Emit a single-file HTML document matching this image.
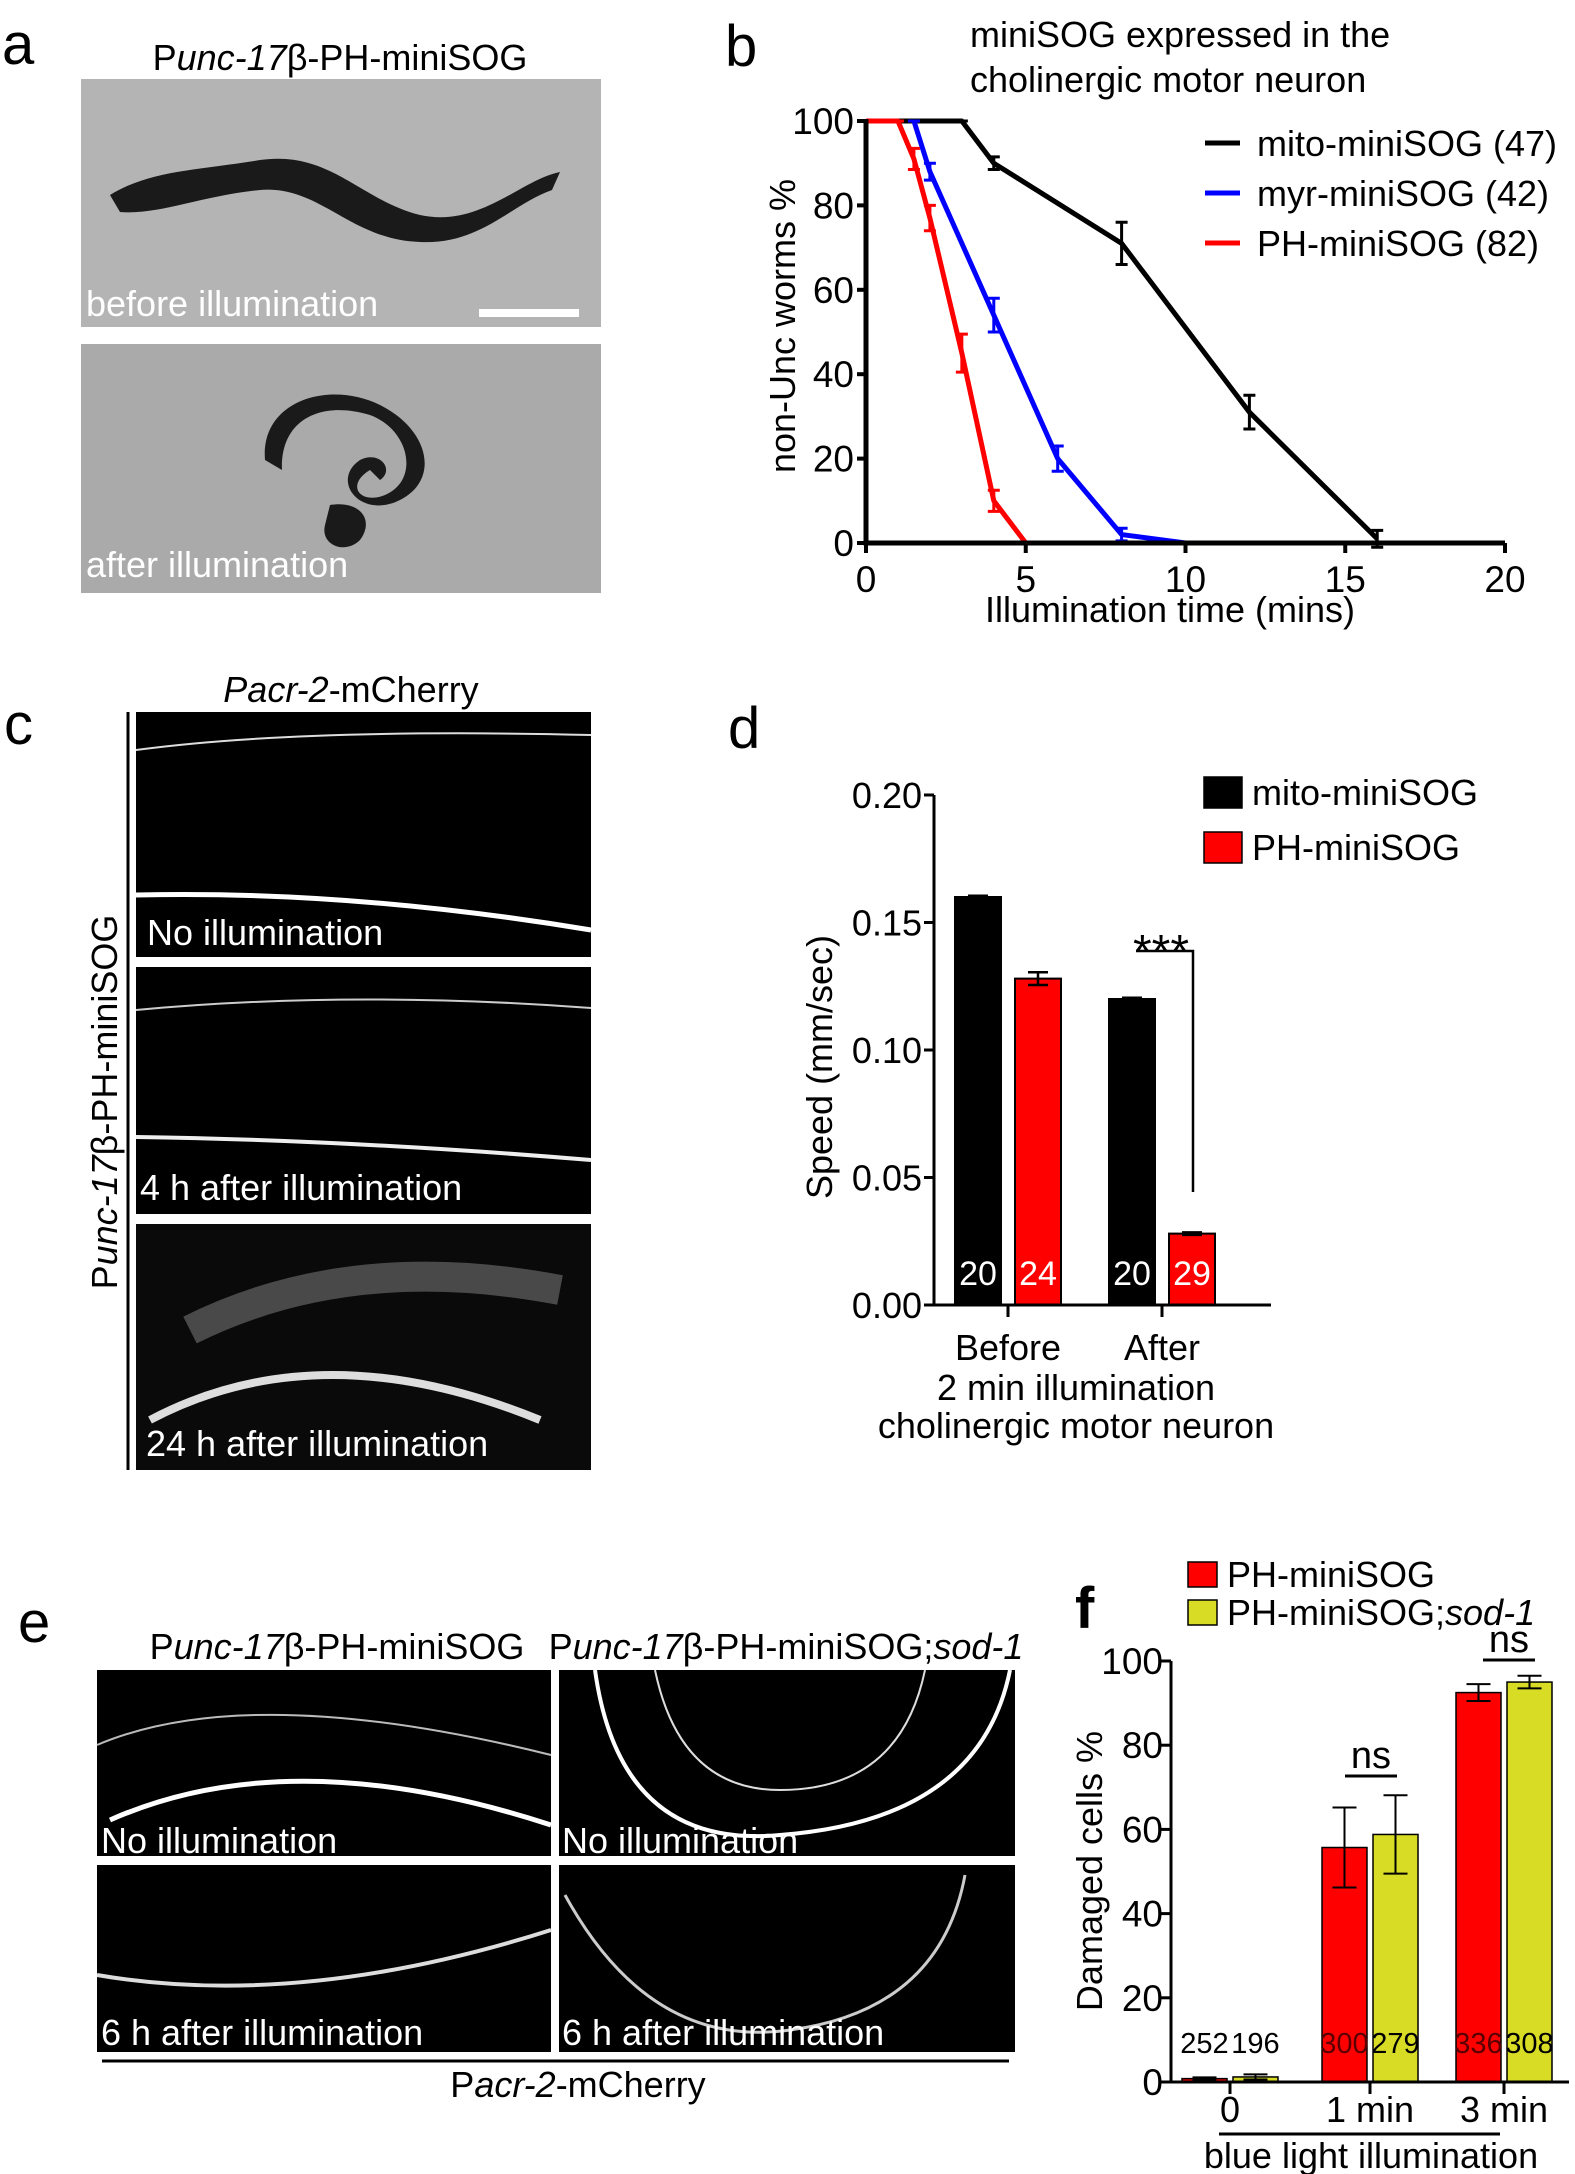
<!DOCTYPE html>
<html><head><meta charset="utf-8"><style>
html,body{margin:0;padding:0;background:#fff}
svg{display:block}
text{font-family:"Liberation Sans",Arial,sans-serif}
</style></head><body>
<svg id="fig" width="1575" height="2174" viewBox="0 0 1575 2174" xmlns="http://www.w3.org/2000/svg">
<!-- Panel a -->
<g>
<text x="2" y="64" font-size="58">a</text>
<text x="340" y="70" font-size="36" text-anchor="middle">P<tspan font-style="italic">unc-17</tspan>β-PH-miniSOG</text>
<rect x="81" y="79" width="520" height="248" fill="#b4b4b4"/>
<path d="M110 195 C150 170 200 170 260 160 C330 150 360 200 420 215 C480 228 520 180 560 172 L552 190 C510 205 480 245 420 242 C350 240 320 185 260 190 C200 196 160 215 120 212 Z" fill="#1a1a1a"/>
<text x="86" y="316" font-size="36" fill="#fff">before illumination</text>
<rect x="479" y="309" width="100" height="8" fill="#fff"/>
<rect x="81" y="344" width="520" height="249" fill="#aaaaaa"/>
<path d="M265 460 C260 400 330 380 380 405 C430 430 440 480 400 500 C360 520 330 480 360 460 C380 450 395 470 380 480 L370 470 C345 485 360 505 385 495 C420 480 410 430 370 415 C320 400 280 420 282 470 Z" fill="#1a1a1a"/>
<path d="M330 505 C360 500 375 520 360 540 C345 555 320 545 325 525 Z" fill="#1a1a1a"/>
<text x="86" y="577" font-size="36" fill="#fff">after illumination</text>
</g>
<!-- Panel c -->
<g>
<text x="4" y="744" font-size="58">c</text>
<text x="351" y="702" font-size="36" text-anchor="middle"><tspan font-style="italic">Pacr-2</tspan>-mCherry</text>
<line x1="128" y1="712" x2="128" y2="1470" stroke="#000" stroke-width="3"/>
<text transform="translate(117,1102) rotate(-90)" font-size="36" text-anchor="middle">P<tspan font-style="italic">unc-17</tspan>β-PH-miniSOG</text>
<rect x="136" y="712" width="455" height="245" fill="#000"/>
<path d="M136 750 Q300 728 591 735" stroke="#ddd" stroke-width="2" fill="none"/>
<path d="M136 895 Q350 890 591 930" stroke="#fff" stroke-width="5" fill="none"/>
<text x="147" y="945" font-size="36" fill="#fff">No illumination</text>
<rect x="136" y="967" width="455" height="247" fill="#000"/>
<path d="M136 1010 Q350 990 591 1008" stroke="#ccc" stroke-width="2" fill="none"/>
<path d="M136 1137 Q350 1140 591 1160" stroke="#eee" stroke-width="4" fill="none"/>
<text x="140" y="1200" font-size="36" fill="#fff">4 h after illumination</text>
<rect x="136" y="1224" width="455" height="246" fill="#0a0a0a"/>
<path d="M190 1330 Q350 1250 560 1290" stroke="#888" stroke-width="30" fill="none" opacity="0.5"/>
<path d="M150 1420 Q320 1330 540 1420" stroke="#ddd" stroke-width="8" fill="none"/>
<text x="146" y="1456" font-size="36" fill="#fff">24 h after illumination</text>
</g>
<!-- Panel e -->
<g>
<text x="18" y="1642" font-size="58">e</text>
<text x="337" y="1659" font-size="36" text-anchor="middle">P<tspan font-style="italic">unc-17</tspan>β-PH-miniSOG</text>
<text x="786" y="1659" font-size="36" text-anchor="middle">P<tspan font-style="italic">unc-17</tspan>β-PH-miniSOG;<tspan font-style="italic">sod-1</tspan></text>
<rect x="97" y="1670" width="454" height="186" fill="#000"/>
<path d="M97 1745 Q250 1680 551 1755" stroke="#bbb" stroke-width="2" fill="none"/>
<path d="M110 1820 Q290 1740 551 1825" stroke="#fff" stroke-width="5" fill="none"/>
<text x="101" y="1853" font-size="36" fill="#fff">No illumination</text>
<rect x="559" y="1670" width="456" height="186" fill="#000"/>
<path d="M595 1670 Q620 1850 780 1835 Q980 1820 1010 1670" stroke="#fff" stroke-width="4" fill="none"/>
<path d="M655 1670 Q680 1790 780 1790 Q900 1790 925 1670" stroke="#ddd" stroke-width="2" fill="none"/>
<text x="562" y="1853" font-size="36" fill="#fff">No illumination</text>
<rect x="97" y="1865" width="454" height="187" fill="#000"/>
<path d="M97 1975 Q300 2010 551 1930" stroke="#ddd" stroke-width="4" fill="none"/>
<text x="101" y="2045" font-size="36" fill="#fff">6 h after illumination</text>
<rect x="559" y="1865" width="456" height="187" fill="#000"/>
<path d="M565 1895 Q650 2050 790 2030 Q940 2010 965 1875" stroke="#ccc" stroke-width="3" fill="none"/>
<text x="562" y="2045" font-size="36" fill="#fff">6 h after illumination</text>
<line x1="102" y1="2061" x2="1009" y2="2061" stroke="#000" stroke-width="3"/>
<text x="578" y="2097" font-size="36" text-anchor="middle">P<tspan font-style="italic">acr-2</tspan>-mCherry</text>
</g>
<!-- Panel b -->
<g id="chartB">
<text x="725" y="66" font-size="58">b</text>
<text x="970" y="47" font-size="36">miniSOG expressed in the</text>
<text x="970" y="92" font-size="36">cholinergic motor neuron</text>
<text transform="translate(795,326) rotate(-90)" font-size="36" text-anchor="middle">non-Unc worms %</text>
<text x="1170" y="622" font-size="36" text-anchor="middle">Illumination time (mins)</text>
</g>
<!-- Panel d -->
<g id="chartD">
<text x="728" y="748" font-size="58">d</text>
<text transform="translate(832,1067) rotate(-90)" font-size="36" text-anchor="middle">Speed (mm/sec)</text>
<text x="1076" y="1400" font-size="36" text-anchor="middle">2 min illumination</text>
<text x="1076" y="1438" font-size="36" text-anchor="middle">cholinergic motor neuron</text>
</g>
<!-- Panel f -->
<g id="chartF">
<text x="1075" y="1628" font-size="58" font-weight="bold">f</text>
<text transform="translate(1102,1871) rotate(-90)" font-size="36" text-anchor="middle">Damaged cells %</text>
<line x1="1219" y1="2134" x2="1500" y2="2134" stroke="#000" stroke-width="3"/>
<text x="1371" y="2168" font-size="36" text-anchor="middle">blue light illumination</text>
</g>
</svg>
<script>
const NS="http://www.w3.org/2000/svg";
function mk(parent,tag,attrs,txt){const e=document.createElementNS(NS,tag);for(const k in attrs)e.setAttribute(k,attrs[k]);if(txt!==undefined)e.textContent=txt;parent.appendChild(e);return e;}

// ===== Chart b data =====
const bXTicks=[0,5,10,15,20];
const bYTicks=[0,20,40,60,80,100];
const mitoX=[0,2,3,4,8,12,16];
const mitoY=[100,100,100,90,71,31,1];
const mitoErr=[0,0,0,1.5,5,4,2];
const myrX=[1.5,2,4,6,8,10];
const myrY=[100,88,54,20,2,0];
const myrErr=[0,2,4,3,1.5,0];
const phX=[0,1,1.5,2,3,4,5];
const phY=[100,100,91,77,45,10,0];
const phErr=[0,0,2.5,3,4.5,2.5,0];
const bSeriesNames=["mito-miniSOG (47)","myr-miniSOG (42)","PH-miniSOG (82)"];
const bColors=["#000","#0000ff","#ff0000"];

(function(){
 const g=document.getElementById('chartB');
 const x0=866,x1=1505,y0=543,y1=121;
 const sx=v=>x0+(v-0)/(20-0)*(x1-x0);
 const sy=v=>y0-(v-0)/(100-0)*(y0-y1);
 const series=[[mitoX,mitoY,mitoErr],[myrX,myrY,myrErr],[phX,phY,phErr]];
 series.forEach((s,i)=>{
  const pts=s[0].map((x,j)=>sx(x)+','+sy(s[1][j])).join(' ');
  const pl=mk(g,'polyline',{points:pts,fill:'none',stroke:bColors[i],'stroke-width':5,'stroke-linejoin':'round'});
  
  
  s[0].forEach((x,j)=>{
   const e=s[2][j];const cx=sx(x);
   const eb=mk(g,'path',{d:`M${cx},${sy(s[1][j]-e)}V${sy(s[1][j]+e)}M${cx-6},${sy(s[1][j]-e)}h12M${cx-6},${sy(s[1][j]+e)}h12`,stroke:bColors[i],'stroke-width':3,fill:'none'});
   
   
  });
 });
 const ax=mk(g,'path',{d:`M${x0},${y1-2}V${y0}H${x1}`,stroke:'#000','stroke-width':5,fill:'none'});
 
 
 bYTicks.forEach(v=>{
  const t=mk(g,'line',{x1:x0-9,x2:x0,y1:sy(v),y2:sy(v),stroke:'#000','stroke-width':4});
  
  
  const l=mk(g,'text',{x:x0-12,y:sy(v)+13,'font-size':37,'text-anchor':'end'},String(v));
  
  
 });
 bXTicks.forEach(v=>{
  const t=mk(g,'line',{x1:sx(v),x2:sx(v),y1:y0,y2:y0+10,stroke:'#000','stroke-width':4});
  
  
  const l=mk(g,'text',{x:sx(v),y:592,'font-size':37,'text-anchor':'middle'},String(v));
  
  
 });
 bSeriesNames.forEach((n,i)=>{
  const yy=143+i*50;
  const ln=mk(g,'line',{x1:1205,x2:1240,y1:yy,y2:yy,stroke:bColors[i],'stroke-width':5});
  
  
  const t=mk(g,'text',{x:1257,y:yy+13,'font-size':36},n);
  
  
 });
})();

// ===== Chart d data =====
const dCategories=["Before","After"];
const dMito=[0.160,0.120];
const dMitoErr=[0.0005,0.0005];
const dPH=[0.128,0.028];
const dPHErr=[0.0025,0.0005];
const dMitoN=["20","20"];
const dPHN=["24","29"];
const dYTicks=[0,0.05,0.10,0.15,0.20];
const dYLabels=["0.00","0.05","0.10","0.15","0.20"];
const dLegend=["mito-miniSOG","PH-miniSOG"];

(function(){
 const g=document.getElementById('chartD');
 const ax0=934,axEnd=1271,y0=1305,y1=795;
 const sy=v=>y0-v/0.20*(y0-y1);
 const catX=i=>1008+i*154;
 const bw=46,gap=14;
 dCategories.forEach((c,i)=>{
  const cx=catX(i);
  const bx1=cx-gap/2-bw, bx2=cx+gap/2;
  const r1=mk(g,'rect',{x:bx1,y:sy(dMito[i]),width:bw,height:y0-sy(dMito[i]),fill:'#000',stroke:'#000','stroke-width':2});
  
  
  const r2=mk(g,'rect',{x:bx2,y:sy(dPH[i]),width:bw,height:y0-sy(dPH[i]),fill:'#ff0000',stroke:'#000','stroke-width':2});
  
  
  [[bx1,dMito[i],dMitoErr[i]],[bx2,dPH[i],dPHErr[i]]].forEach(a=>{
   const m=a[0]+bw/2;
   const e=mk(g,'path',{d:`M${m},${sy(a[1]-a[2])}V${sy(a[1]+a[2])}M${m-10},${sy(a[1]+a[2])}h20M${m-10},${sy(a[1]-a[2])}h20`,stroke:'#000','stroke-width':2.5,fill:'none'});
   
   
  });
  const n1=mk(g,'text',{x:bx1+bw/2,y:1285,'font-size':34,'text-anchor':'middle',fill:'#fff'},dMitoN[i]);
  
  
  const n2=mk(g,'text',{x:bx2+bw/2,y:1285,'font-size':34,'text-anchor':'middle',fill:'#fff'},dPHN[i]);
  
  
  const tk=mk(g,'line',{x1:cx,x2:cx,y1:y0,y2:y0+12,stroke:'#000','stroke-width':3});
  
  
  const lb=mk(g,'text',{x:cx,y:1360,'font-size':36,'text-anchor':'middle'},c);
  
  
 });
 const ax=mk(g,'path',{d:`M${ax0},${y1}V${y0}H${axEnd}`,stroke:'#000','stroke-width':3,fill:'none'});
 
 
 dYTicks.forEach((v,i)=>{
  const t=mk(g,'line',{x1:ax0-10,x2:ax0,y1:sy(v),y2:sy(v),stroke:'#000','stroke-width':3});
  
  
  const l=mk(g,'text',{x:ax0-12,y:sy(v)+13,'font-size':36,'text-anchor':'end'},dYLabels[i]);
  
  
 });
 const sig=mk(g,'path',{d:'M1136,951H1193V1192',stroke:'#000','stroke-width':2.5,fill:'none'});
 
 
 const st=mk(g,'text',{x:1161,y:968,'font-size':48,'text-anchor':'middle'},'***');
 
 
 dLegend.forEach((n,i)=>{
  const r=mk(g,'rect',{x:1204,y:777+i*55,width:38,height:31,fill:i?'#ff0000':'#000',stroke:'#000','stroke-width':1.5});
  
  
  const t=mk(g,'text',{x:1252,y:805+i*55,'font-size':36},n);
  
  
 });
})();

// ===== Chart f data =====
const fCategories=["0","1 min","3 min"];
const fPH=[0.8,55.7,92.5];
const fPHErr=[0.3,9.5,2];
const fSod=[1.2,58.8,95];
const fSodErr=[0.6,9.3,1.5];
const fPHN=["252","300","336"];
const fSodN=["196","279","308"];
const fYTicks=[0,20,40,60,80,100];
const fLegend=["PH-miniSOG","PH-miniSOG;"];

(function(){
 const g=document.getElementById('chartF');
 const ax0=1171,axEnd=1569,y0=2082,y1=1661;
 const sy=v=>y0-v/100*(y0-y1);
 const catX=[1230,1370,1504];
 const bw=45,gap=6;
 fCategories.forEach((c,i)=>{
  const cx=catX[i];
  const bx1=cx-gap/2-bw,bx2=cx+gap/2;
  const r1=mk(g,'rect',{x:bx1,y:sy(fPH[i]),width:bw,height:y0-sy(fPH[i]),fill:'#ff0000',stroke:'#000','stroke-width':1.5});
  
  
  const r2=mk(g,'rect',{x:bx2,y:sy(fSod[i]),width:bw,height:y0-sy(fSod[i]),fill:'#d8dc24',stroke:'#000','stroke-width':1.5});
  
  
  [[bx1,fPH[i],fPHErr[i]],[bx2,fSod[i],fSodErr[i]]].forEach(a=>{
   const m=a[0]+bw/2;
   const e=mk(g,'path',{d:`M${m},${sy(a[1]-a[2])}V${sy(a[1]+a[2])}M${m-12},${sy(a[1]+a[2])}h24M${m-12},${sy(a[1]-a[2])}h24`,stroke:'#000','stroke-width':2,fill:'none'});
   
   
  });
  const n1=mk(g,'text',{x:bx1+bw/2,y:2053,'font-size':29,'text-anchor':'middle',fill:i?'#5a0000':'#000'},fPHN[i]);
  
  
  const n2=mk(g,'text',{x:bx2+bw/2,y:2053,'font-size':29,'text-anchor':'middle'},fSodN[i]);
  
  
  const tk=mk(g,'line',{x1:cx,x2:cx,y1:y0,y2:y0+12,stroke:'#000','stroke-width':3});
  
  
  const lb=mk(g,'text',{x:cx,y:2122,'font-size':36,'text-anchor':'middle'},c);
  
  
 });
 const ax=mk(g,'path',{d:`M${ax0},${y1}V${y0}H${axEnd}`,stroke:'#000','stroke-width':3,fill:'none'});
 
 
 fYTicks.forEach(v=>{
  const t=mk(g,'line',{x1:ax0-12,x2:ax0,y1:sy(v),y2:sy(v),stroke:'#000','stroke-width':3});
  
  
  const l=mk(g,'text',{x:ax0-8,y:sy(v)+13,'font-size':37,'text-anchor':'end'},String(v));
  
  
 });
 [[1345,1397,1776],[1483,1535,1660]].forEach(a=>{
  const l=mk(g,'line',{x1:a[0],x2:a[1],y1:a[2],y2:a[2],stroke:'#000','stroke-width':3});
  
  
  const t=mk(g,'text',{x:(a[0]+a[1])/2,y:a[2]-8,'font-size':38,'text-anchor':'middle'},'ns');
  
  
 });
 fLegend.forEach((n,i)=>{
  const r=mk(g,'rect',{x:1188,y:1562+i*38,width:29,height:25,fill:i?'#d8dc24':'#ff0000',stroke:'#000','stroke-width':1.5});
  
  
  const t=mk(g,'text',{x:1227,y:1587+i*38,'font-size':36},n);
  
  
  if(i===1){const s=mk(t,'tspan',{'font-style':'italic'},'sod-1');}
 });
})();
</script>
</body></html>
